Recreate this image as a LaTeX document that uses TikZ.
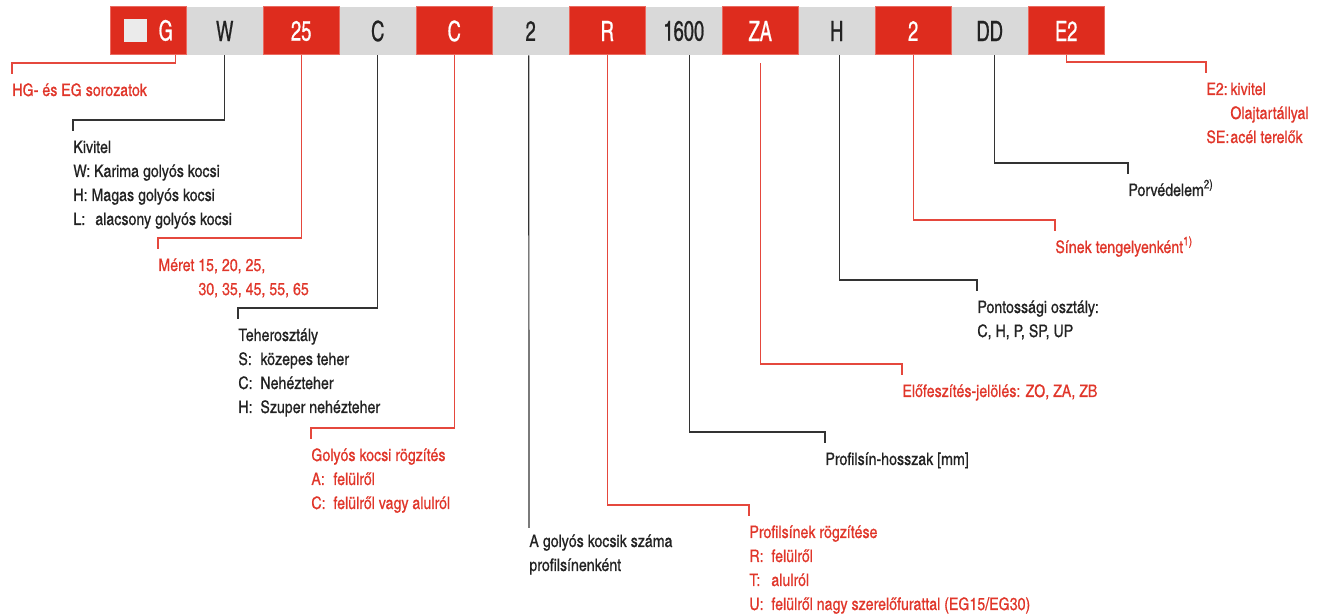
\documentclass[tikz,border=0pt]{standalone}
\usepackage{fontspec}
\setmainfont{texgyreheroscn-regular.otf}[FakeBold=0.6]
\newfontfamily\barfont{texgyreheroscn-regular.otf}[FakeStretch=0.8, FakeBold=0.6]
\usetikzlibrary{calc}
\definecolor{CodeRed}{HTML}{DE2C1E}
\definecolor{CodeEdge}{HTML}{EA6A60}
\definecolor{CodeGrey}{HTML}{D9D9D9}
\definecolor{SqGrey}{HTML}{EBEBEB}
\definecolor{NoteRed}{HTML}{E0362A}
\definecolor{LeadRed}{HTML}{E5483D}
\definecolor{Ink}{HTML}{222222}
\definecolor{LeadInk}{HTML}{333333}
\newcommand\sqmark{\textcolor{SqGrey}{\rule[-1pt]{11.5pt}{11.5pt}}\hspace{6pt}}
\newcommand\rows[1]{\begin{tabular}[t]{@{}l@{}}#1\end{tabular}}
\newcommand\keytag[2][11pt]{\makebox[#1][l]{#2}}

\begin{document}
\begin{tikzpicture}[
  x=0.5pt, y=-0.5pt,
  codebox/.style={minimum width=38.25pt, minimum height=24pt, inner sep=0pt,
                  font=\barfont\fontsize{14}{16}\selectfont},
  redbox/.style={codebox, fill=CodeRed, draw=CodeEdge, line width=0.5pt, text=white},
  greybox/.style={codebox, fill=CodeGrey, text=Ink},
  desc/.style={anchor=base west, inner sep=0pt, font=\fontsize{8.65}{12}\selectfont},
  redtxt/.style={desc, text=NoteRed},
  blktxt/.style={desc, text=Ink},
  redlead/.style={draw=LeadRed, line width=0.6pt},
  blklead/.style={draw=LeadInk, line width=0.6pt}
]
  \useasboundingbox (0,0) rectangle (1329,614);

  % Code boxes
  \foreach \code/\sty [count=\i] in {{\sqmark G}/redbox, W/greybox, 25/redbox,
      C/greybox, C/redbox, 2/greybox, R/redbox, 1600/greybox, ZA/redbox,
      H/greybox, 2/redbox, DD/greybox, E2/redbox}
    \node[\sty] (b\i) at (71.75+76.5*\i, 31) {\code};

  % Descriptions
  \node[redtxt] (l1) at (12,96) {HG- és EG sorozatok};
  \node[blktxt] (l2) at (73,153) {\rows{Kivitel\\ W: Karima golyós kocsi\\
      H: Magas golyós kocsi\\ \keytag{L:}alacsony golyós kocsi}};
  \node[redtxt] (l3) at (158,271) {\rows{Méret 15, 20, 25,\\
      \hspace*{20pt}30, 35, 45, 55, 65}};
  \node[blktxt] (l4) at (238,341) {\rows{Teherosztály\\ \keytag{S:}közepes teher\\
      \keytag{C:}Nehézteher\\ \keytag{H:}Szuper nehézteher}};
  \node[redtxt] (l5) at (311,461) {\rows{Golyós kocsi rögzítés\\ \keytag{A:}felülről\\
      \keytag{C:}felülről vagy alulról}};
  \node[blktxt] (l6) at (529,547) {\rows{A golyós kocsik száma\\ profilsínenként}};
  \node[redtxt] (l7) at (749,538) {\rows{Profilsínek rögzítése\\ \keytag{R:}felülről\\
      \keytag{T:}alulról\\ \keytag{U:}felülről nagy szerelőfurattal (EG15/EG30)}};
  \node[blktxt] (l8) at (825,465) {Profilsín-hosszak [mm]};
  \node[redtxt] (l9) at (902,397) {Előfeszítés-jelölés: ZO, ZA, ZB};
  \node[blktxt] (l10) at (977,313) {\rows{Pontossági osztály:\\ C, H, P, SP, UP}};
  \node[redtxt] (l11) at (1055,253) {Sínek tengelyenként\textsuperscript{1)}};
  \node[blktxt] (l12) at (1128,196) {Porvédelem\textsuperscript{2)}};
  \node[redtxt] (l13) at (1206,95) {\rows{\keytag[12pt]{E2:}kivitel\\
      \hspace*{12pt}Olajtartállyal\\ \keytag[12pt]{SE:}acél terelők}};

  % Leaders
  \foreach \i/\sty/\dx/\dy in {1/redlead/13.5/0, 2/blklead/0/0, 3/redlead/0/0,
      4/blklead/0/0, 5/redlead/0/0, 7/redlead/0/0, 8/blklead/3/0,
      9/redlead/0/-4, 10/blklead/1.5/0, 11/redlead/0/0, 12/blklead/2.5/0,
      13/redlead/0/0}
    \draw[\sty] ([xshift=\dx pt, yshift=\dy pt]b\i.south)
      |- ($(l\i.base west)+(0,-33)$) -- ($(l\i.base west)+(0,-22)$);
  \draw[blklead] ([xshift=-1pt]b6.south) -- ($(l6.base west)+(0,-19)$);
\end{tikzpicture}
\end{document}
